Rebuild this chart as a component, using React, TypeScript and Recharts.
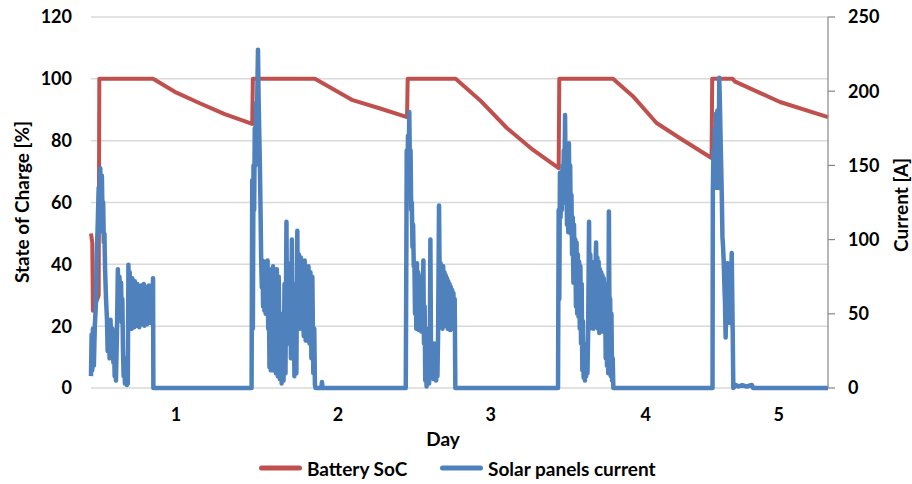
import { LineChart, Line, XAxis, YAxis, CartesianGrid } from "recharts";

// x values are hours from the start of the record, y values SoC [%] / current [A]
const socPoints: [number, number][] = [
  [0, 50], [0.2, 47], [0.3, 25], [1.2, 30], [1.3, 100], [9.7, 100], [13.1, 95.8], [17.0, 92.1],
  [20.9, 88.6], [25.2, 85.4], [25.3, 100], [35.0, 100], [40.9, 93.1], [45.2, 90.4], [49.4, 87.6],
  [49.5, 100], [57.0, 100], [60.8, 93.1], [65.0, 84.1], [69.1, 77.0], [73.1, 71.1], [73.2, 100],
  [81.6, 100], [84.7, 94.4], [88.4, 85.7], [92.5, 80.2], [97.0, 74.4], [97.1, 100], [100.3, 100],
  [100.6, 99.2], [107.7, 92.5], [115.2, 87.6],
];

const day1Current: [number, number][] = [
  [0, 8], [0.1, 36], [0.2, 12], [0.3, 40], [0.45, 15], [0.6, 42], [0.75, 55], [0.9, 90], [1.05, 110],
  [1.2, 135], [1.3, 105], [1.45, 148], [1.55, 125], [1.7, 143], [1.8, 115], [1.9, 125], [2.0, 98],
  [2.1, 104], [2.2, 80], [2.35, 60], [2.5, 46], [2.6, 25], [2.75, 44], [2.9, 20], [3.05, 46], [3.2, 22],
  [3.35, 40], [3.5, 17], [3.6, 30], [3.7, 8], [3.8, 28], [3.9, 5], [4.05, 35], [4.2, 80], [4.3, 50],
  [4.45, 75], [4.6, 55], [4.7, 71], [4.8, 44], [4.9, 60], [5.0, 26], [5.1, 8], [5.2, 20], [5.3, 3],
  [5.45, 12], [5.6, 2], [5.75, 3], [5.85, 83], [5.95, 45], [6.05, 78], [6.15, 42], [6.25, 70], [6.35, 40],
  [6.45, 74], [6.55, 44], [6.65, 68], [6.75, 41], [6.85, 72], [6.95, 45], [7.05, 66], [7.15, 42],
  [7.25, 70], [7.35, 44], [7.45, 68], [7.55, 41], [7.65, 66], [7.75, 45], [7.85, 69], [7.95, 43],
  [8.05, 67], [8.15, 46], [8.25, 70], [8.35, 42], [8.45, 66], [8.55, 45], [8.65, 68], [8.75, 43],
  [8.85, 67], [8.95, 47], [9.05, 69], [9.15, 44], [9.25, 66], [9.35, 48], [9.45, 67], [9.55, 50],
  [9.7, 74], [9.75, 0], [25.1, 0],
];

const day2Current: [number, number][] = [
  [25.2, 140], [25.3, 40], [25.4, 150], [25.5, 120], [25.6, 175], [25.7, 150], [25.8, 192], [25.9, 170],
  [26.0, 200], [26.1, 228], [26.2, 195], [26.3, 172], [26.4, 150], [26.5, 120], [26.6, 86], [26.7, 68],
  [26.8, 86], [26.9, 55], [27.0, 84], [27.1, 52], [27.2, 85], [27.3, 50], [27.4, 84], [27.5, 54],
  [27.6, 86], [27.7, 40], [27.8, 70], [27.9, 14], [28.0, 60], [28.1, 12], [28.2, 80], [28.3, 16],
  [28.45, 82], [28.6, 12], [28.75, 78], [28.9, 10], [29.05, 80], [29.2, 8], [29.35, 75], [29.5, 6],
  [29.65, 50], [29.8, 3], [29.95, 40], [30.1, 5], [30.25, 70], [30.4, 10], [30.55, 112], [30.65, 40],
  [30.8, 84], [30.95, 30], [31.1, 80], [31.25, 20], [31.4, 100], [31.5, 30], [31.65, 70], [31.8, 8],
  [31.95, 60], [32.1, 10], [32.25, 106], [32.35, 50], [32.5, 90], [32.65, 40], [32.8, 88], [32.95, 45],
  [33.1, 82], [33.25, 35], [33.4, 86], [33.55, 32], [33.7, 80], [33.85, 40], [34.0, 82], [34.15, 30],
  [34.3, 78], [34.45, 20], [34.6, 75], [34.75, 10], [34.9, 40], [35.0, 2], [35.1, 0], [36.0, 0],
  [36.1, 4], [36.2, 0], [49.2, 0],
];

const day3Current: [number, number][] = [
  [49.3, 100], [49.35, 160], [49.45, 130], [49.55, 170], [49.65, 140], [49.75, 186], [49.85, 150],
  [49.95, 160], [50.05, 120], [50.15, 125], [50.25, 95], [50.35, 110], [50.45, 82], [50.55, 84],
  [50.65, 50], [50.75, 80], [50.85, 40], [50.95, 84], [51.05, 42], [51.15, 78], [51.25, 39], [51.35, 70],
  [51.45, 40], [51.55, 75], [51.65, 38], [51.75, 68], [51.85, 45], [51.95, 86], [52.05, 30], [52.15, 55],
  [52.25, 5], [52.35, 40], [52.45, 1], [52.55, 35], [52.65, 8], [52.75, 30], [52.85, 3], [52.95, 20],
  [53.05, 100], [53.15, 20], [53.25, 28], [53.35, 8], [53.45, 25], [53.55, 6], [53.65, 30], [53.75, 10],
  [53.85, 26], [53.95, 5], [54.05, 28], [54.15, 8], [54.25, 35], [54.4, 123], [54.55, 50], [54.65, 84],
  [54.75, 45], [54.85, 80], [54.95, 40], [55.05, 82], [55.15, 48], [55.25, 78], [55.35, 42], [55.45, 76],
  [55.55, 46], [55.65, 74], [55.75, 40], [55.85, 72], [55.95, 44], [56.05, 70], [56.15, 39], [56.25, 68],
  [56.35, 42], [56.45, 66], [56.55, 40], [56.65, 64], [56.75, 45], [56.85, 60], [56.95, 0], [73.0, 0],
];

const day4Current: [number, number][] = [
  [73.1, 120], [73.2, 60], [73.3, 145], [73.4, 115], [73.5, 140], [73.6, 120], [73.7, 150], [73.8, 125],
  [73.9, 160], [74.0, 140], [74.1, 184], [74.2, 130], [74.3, 160], [74.4, 110], [74.5, 150], [74.6, 105],
  [74.7, 165], [74.8, 115], [74.9, 150], [75.0, 104], [75.1, 130], [75.2, 90], [75.3, 115], [75.4, 71],
  [75.5, 110], [75.6, 75], [75.7, 100], [75.8, 55], [75.9, 98], [76.0, 50], [76.1, 90], [76.2, 48],
  [76.3, 85], [76.4, 40], [76.5, 82], [76.6, 30], [76.7, 70], [76.8, 12], [76.9, 45], [77.0, 7],
  [77.1, 30], [77.2, 5], [77.3, 25], [77.4, 8], [77.5, 30], [77.6, 10], [77.7, 35], [77.85, 112],
  [77.95, 40], [78.05, 90], [78.15, 45], [78.25, 85], [78.35, 50], [78.45, 80], [78.55, 40], [78.65, 82],
  [78.75, 45], [78.85, 78], [78.95, 98], [79.05, 50], [79.15, 88], [79.25, 40], [79.35, 85], [79.45, 37],
  [79.55, 80], [79.65, 42], [79.75, 78], [79.85, 38], [79.95, 76], [80.05, 45], [80.15, 74], [80.25, 40],
  [80.35, 70], [80.45, 20], [80.55, 65], [80.65, 15], [80.75, 60], [80.85, 10], [80.95, 119], [81.05, 40],
  [81.15, 60], [81.25, 8], [81.35, 50], [81.45, 5], [81.55, 20], [81.65, 0], [97.15, 0],
];

const day5Current: [number, number][] = [
  [97.2, 133], [97.3, 160], [97.4, 140], [97.5, 175], [97.6, 135], [97.7, 185], [97.8, 150], [97.9, 187],
  [98.0, 158], [98.1, 135], [98.2, 209], [98.3, 192], [98.4, 170], [98.5, 150], [98.6, 130], [98.7, 102],
  [98.8, 95], [98.9, 85], [99.0, 70], [99.1, 57], [99.2, 34], [99.3, 60], [99.4, 44], [99.5, 84],
  [99.6, 50], [99.7, 75], [99.8, 44], [100.0, 60], [100.15, 91], [100.3, 40], [100.4, 0], [100.8, 2],
  [101.2, 1], [101.8, 2], [102.5, 1], [103.3, 2], [103.5, 0], [115.2, 0],
];

const socTicks = [0, 20, 40, 60, 80, 100, 120];
const currentTicks = [0, 50, 100, 150, 200, 250];
const dayTickHours = [13.3, 38.6, 62.5, 86.7, 107.5];
const dayLabels = ["1", "2", "3", "4", "5"];

const socData = socPoints.map(([t, v]) => ({ t, soc: v }));
const currentData = [...day1Current, ...day2Current, ...day3Current, ...day4Current, ...day5Current].map(
  ([t, v]) => ({ t, amps: v })
);

const font = "Lato, 'Open Sans', sans-serif";
const tickStyle = { fill: "#000", fontSize: 18, fontWeight: 700, fontFamily: font };
const titleStyle = { position: "absolute" as const, fontSize: 19, fontWeight: 700, whiteSpace: "nowrap" as const };

export default function App() {
  return (
    <div style={{ position: "absolute", left: 0, top: 0, width: 912, height: 484, background: "#fff", fontFamily: font }}>
      <LineChart width={912} height={484} margin={{ top: 17, right: 24, left: 31, bottom: 66 }}>
        <CartesianGrid yAxisId="left" vertical={false} stroke="#d9d9d9" strokeWidth={1.5} />
        <XAxis
          dataKey="t"
          type="number"
          domain={[0, 115.2]}
          ticks={dayTickHours}
          interval={0}
          tickFormatter={(_v, i) => dayLabels[i]}
          axisLine={false}
          tickLine={false}
          tickSize={0}
          tickMargin={20}
          height={30}
          tick={tickStyle}
        />
        <YAxis
          yAxisId="left"
          domain={[0, 120]}
          ticks={socTicks}
          interval={0}
          axisLine={false}
          tickLine={false}
          tickSize={0}
          tickMargin={19}
          width={60}
          tick={tickStyle}
        />
        <YAxis
          yAxisId="right"
          orientation="right"
          domain={[0, 250]}
          ticks={currentTicks}
          interval={0}
          axisLine={{ stroke: "#868686", strokeWidth: 1.2 }}
          tickLine={{ stroke: "#868686", strokeWidth: 1.2 }}
          tickSize={7}
          tickMargin={13}
          width={60}
          tick={tickStyle}
        />
        <Line
          data={socData}
          dataKey="soc"
          yAxisId="left"
          type="linear"
          stroke="#c0504d"
          strokeWidth={4}
          dot={false}
          strokeLinejoin="round"
          isAnimationActive={false}
        />
        <Line
          data={currentData}
          dataKey="amps"
          yAxisId="right"
          type="linear"
          stroke="#4f81bd"
          strokeWidth={4.5}
          dot={false}
          strokeLinejoin="round"
          isAnimationActive={false}
        />
      </LineChart>

      <div style={{ ...titleStyle, left: 21, top: 202, transform: "translate(-50%, -50%) rotate(-90deg)" }}>
        State of Charge [%]
      </div>
      <div style={{ ...titleStyle, left: 900, top: 205, transform: "translate(-50%, -50%) rotate(-90deg)" }}>
        Current [A]
      </div>
      <div style={{ ...titleStyle, left: 443, top: 438, transform: "translate(-50%, -50%)" }}>Day</div>

      <div style={{ ...titleStyle, left: 259, top: 468, transform: "translateY(-50%)", display: "flex", alignItems: "center" }}>
        <span style={{ display: "inline-block", width: 43, height: 5, borderRadius: 3, background: "#c0504d", marginRight: 5 }} />
        <span>Battery SoC</span>
      </div>
      <div style={{ ...titleStyle, left: 440, top: 468, transform: "translateY(-50%)", display: "flex", alignItems: "center" }}>
        <span style={{ display: "inline-block", width: 43, height: 5, borderRadius: 3, background: "#4f81bd", marginRight: 5 }} />
        <span>Solar panels current</span>
      </div>
    </div>
  );
}
